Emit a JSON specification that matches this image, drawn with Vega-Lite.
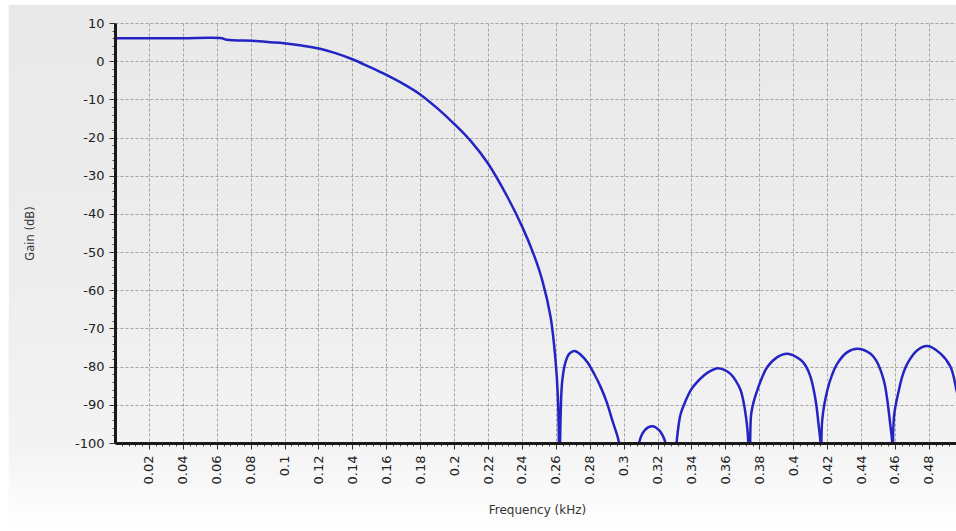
{
  "$schema": "https://vega.github.io/schema/vega-lite/v6.json",
  "width": 841,
  "height": 420,
  "autosize": {"type": "none"},
  "padding": {"left": 115, "top": 23, "right": 0, "bottom": 88},
  "background": "#ffffff",
  "config": {"view": {"stroke": null}, "font": "DejaVu Sans"},
  "view": {
    "stroke": null,
    "fill": {"gradient": "linear", "x1": 0, "y1": 0, "x2": 0, "y2": 1,
      "stops": [{"offset": 0, "color": "#e9e9e9"}, {"offset": 0.6, "color": "#ededed"}, {"offset": 1, "color": "#f3f3f3"}]}
  },
  "datasets": {
    "resp": [
      {"f": 0, "gain": 6}, {"f": 0.02, "gain": 6}, {"f": 0.04, "gain": 6}, {"f": 0.063, "gain": 6},
      {"f": 0.066, "gain": 5.6}, {"f": 0.083, "gain": 5.3}, {"f": 0.09, "gain": 5.0}, {"f": 0.0996, "gain": 4.7},
      {"f": 0.11, "gain": 4.1}, {"f": 0.1203, "gain": 3.3}, {"f": 0.13, "gain": 2.1}, {"f": 0.14, "gain": 0.5},
      {"f": 0.15, "gain": -1.5}, {"f": 0.16, "gain": -3.6}, {"f": 0.17, "gain": -5.95}, {"f": 0.18, "gain": -8.7},
      {"f": 0.19, "gain": -12.3}, {"f": 0.2, "gain": -16.4}, {"f": 0.21, "gain": -21.0}, {"f": 0.22, "gain": -26.8},
      {"f": 0.2314, "gain": -35.5}, {"f": 0.2402, "gain": -43.4}, {"f": 0.2471, "gain": -50.8},
      {"f": 0.252, "gain": -57.4}, {"f": 0.2569, "gain": -67}, {"f": 0.2598, "gain": -78.3}, {"f": 0.2612, "gain": -87.9},
      {"f": 0.2618, "gain": -100}, {"f": 0.2621, "gain": -115},
      {"f": 0.2625, "gain": -100}, {"f": 0.263, "gain": -90}, {"f": 0.2638, "gain": -83.6}, {"f": 0.2657, "gain": -78.8},
      {"f": 0.268, "gain": -76.6}, {"f": 0.2711, "gain": -75.9}, {"f": 0.2745, "gain": -76.8}, {"f": 0.2785, "gain": -78.8},
      {"f": 0.2825, "gain": -81.8}, {"f": 0.2864, "gain": -85.3}, {"f": 0.29, "gain": -89.3}, {"f": 0.2933, "gain": -94.1},
      {"f": 0.2972, "gain": -99.8}, {"f": 0.3, "gain": -115}, {"f": 0.306, "gain": -115},
      {"f": 0.309, "gain": -100}, {"f": 0.3125, "gain": -96.6}, {"f": 0.3169, "gain": -95.6}, {"f": 0.321, "gain": -96.7},
      {"f": 0.3247, "gain": -100}, {"f": 0.328, "gain": -115},
      {"f": 0.3312, "gain": -100}, {"f": 0.3322, "gain": -96}, {"f": 0.3336, "gain": -92.4}, {"f": 0.3365, "gain": -89},
      {"f": 0.3395, "gain": -86.2}, {"f": 0.343, "gain": -84.2}, {"f": 0.3473, "gain": -82.3}, {"f": 0.351, "gain": -81.2},
      {"f": 0.3552, "gain": -80.4}, {"f": 0.359, "gain": -80.8}, {"f": 0.363, "gain": -81.9}, {"f": 0.366, "gain": -83.6},
      {"f": 0.369, "gain": -86.2}, {"f": 0.3705, "gain": -88.8}, {"f": 0.3719, "gain": -92.4}, {"f": 0.373, "gain": -96.5},
      {"f": 0.3735, "gain": -100}, {"f": 0.3742, "gain": -115},
      {"f": 0.3746, "gain": -100}, {"f": 0.3752, "gain": -92.4}, {"f": 0.3768, "gain": -89}, {"f": 0.3788, "gain": -86.2},
      {"f": 0.3815, "gain": -83}, {"f": 0.3847, "gain": -80.1}, {"f": 0.3906, "gain": -77.5}, {"f": 0.3965, "gain": -76.6},
      {"f": 0.4043, "gain": -78.2}, {"f": 0.4075, "gain": -79.9}, {"f": 0.4102, "gain": -82.7}, {"f": 0.4132, "gain": -88.8},
      {"f": 0.4151, "gain": -95.8}, {"f": 0.4161, "gain": -100}, {"f": 0.4166, "gain": -115},
      {"f": 0.4171, "gain": -94}, {"f": 0.4201, "gain": -86.2}, {"f": 0.4228, "gain": -82.3}, {"f": 0.426, "gain": -79.2},
      {"f": 0.4319, "gain": -76.2}, {"f": 0.4378, "gain": -75.3}, {"f": 0.4456, "gain": -76.6}, {"f": 0.4488, "gain": -78.3},
      {"f": 0.4515, "gain": -80.9},
      {"f": 0.4538, "gain": -84.3}, {"f": 0.4555, "gain": -88.8}, {"f": 0.4574, "gain": -95.8}, {"f": 0.4584, "gain": -100},
      {"f": 0.4589, "gain": -115},
      {"f": 0.4594, "gain": -93.2}, {"f": 0.4623, "gain": -86.2}, {"f": 0.4645, "gain": -82.3}, {"f": 0.4673, "gain": -79.2},
      {"f": 0.4732, "gain": -75.7}, {"f": 0.4791, "gain": -74.6}, {"f": 0.4869, "gain": -76.6}, {"f": 0.4928, "gain": -80.1},
      {"f": 0.4965, "gain": -86.5}, {"f": 0.5, "gain": -93}
    ]
  },
  "resolve": {"axis": {"x": "independent", "y": "independent"}},
  "layer": [
    {
      "data": {"values": [{}]},
      "mark": {"type": "rect", "clip": false,
        "fill": {"gradient": "linear", "x1": 0, "y1": 0, "x2": 0, "y2": 1,
          "stops": [{"offset": 0, "color": "#e9e9e9"}, {"offset": 0.5, "color": "#ededed"}, {"offset": 0.833, "color": "#f3f3f3"}, {"offset": 1, "color": "#ffffff"}]}},
      "encoding": {
        "x": {"datum": -0.0627, "type": "quantitative", "axis": null, "scale": {"domain": [0, 0.496], "nice": false, "zero": false}},
        "x2": {"datum": 0},
        "y": {"datum": 14.8, "type": "quantitative", "axis": null, "scale": {"domain": [-100, 10], "nice": false, "zero": false}},
        "y2": {"datum": -123.2}
      }
    },
    {
      "data": {"values": [{}]},
      "mark": {"type": "rect", "clip": false, "fill": "#e9e9e9"},
      "encoding": {
        "x": {"datum": 0, "type": "quantitative", "axis": null},
        "x2": {"datum": 0.51},
        "y": {"datum": 14.8, "type": "quantitative", "axis": null},
        "y2": {"datum": 10}
      }
    },
    {
      "data": {"values": [{}]},
      "mark": {"type": "rect", "clip": false,
        "fill": {"gradient": "linear", "x1": 0, "y1": 0, "x2": 0, "y2": 1,
          "stops": [{"offset": 0, "color": "#f3f3f3"}, {"offset": 1, "color": "#ffffff"}]}},
      "encoding": {
        "x": {"datum": 0, "type": "quantitative", "axis": null},
        "x2": {"datum": 0.51},
        "y": {"datum": -100, "type": "quantitative", "axis": null},
        "y2": {"datum": -123.2}
      }
    },
    {
      "data": {"name": "resp"},
      "mark": {"type": "line", "opacity": 0},
      "encoding": {
        "x": {"field": "f", "type": "quantitative",
          "axis": {"orient": "bottom", "zindex": 0, "grid": true, "gridColor": "#a3a3a3", "gridDash": [3, 2], "gridWidth": 1,
            "values": [0.02, 0.04, 0.06, 0.08, 0.1, 0.12, 0.14, 0.16, 0.18, 0.2, 0.22, 0.24, 0.26, 0.28, 0.3, 0.32, 0.34, 0.36, 0.38, 0.4, 0.42, 0.44, 0.46, 0.48],
            "labels": false, "ticks": false, "domain": false, "title": null}},
        "y": {"field": "gain", "type": "quantitative",
          "axis": {"orient": "left", "zindex": 0, "grid": true, "gridColor": "#a3a3a3", "gridDash": [3, 2], "gridWidth": 1,
            "values": [10, 0, -10, -20, -30, -40, -50, -60, -70, -80, -90],
            "labels": false, "ticks": false, "domain": false, "title": null}}
      }
    },
    {
      "data": {"name": "resp"},
      "mark": {"type": "line", "opacity": 0},
      "encoding": {
        "x": {"field": "f", "type": "quantitative",
          "axis": {"orient": "bottom", "zindex": 1, "grid": false, "labels": false, "domain": false, "title": null,
            "tickSize": 3, "tickColor": "#444", "tickWidth": 1,
            "values": [0.004,0.008,0.012,0.016,0.024,0.028,0.032,0.036,0.044,0.048,0.052,0.056,0.064,0.068,0.072,0.076,0.084,0.088,0.092,0.096,0.104,0.108,0.112,0.116,0.124,0.128,0.132,0.136,0.144,0.148,0.152,0.156,0.164,0.168,0.172,0.176,0.184,0.188,0.192,0.196,0.204,0.208,0.212,0.216,0.224,0.228,0.232,0.236,0.244,0.248,0.252,0.256,0.264,0.268,0.272,0.276,0.284,0.288,0.292,0.296,0.304,0.308,0.312,0.316,0.324,0.328,0.332,0.336,0.344,0.348,0.352,0.356,0.364,0.368,0.372,0.376,0.384,0.388,0.392,0.396,0.404,0.408,0.412,0.416,0.424,0.428,0.432,0.436,0.444,0.448,0.452,0.456,0.464,0.468,0.472,0.476,0.484,0.488,0.492]}},
        "y": {"field": "gain", "type": "quantitative",
          "axis": {"orient": "left", "zindex": 1, "grid": false, "labels": false, "domain": false, "title": null,
            "tickSize": 3, "tickColor": "#444", "tickWidth": 1,
            "values": [8,6,4,2,-2,-4,-6,-8,-12,-14,-16,-18,-22,-24,-26,-28,-32,-34,-36,-38,-42,-44,-46,-48,-52,-54,-56,-58,-62,-64,-66,-68,-72,-74,-76,-78,-82,-84,-86,-88,-92,-94,-96,-98]}}
      }
    },
    {
      "data": {"name": "resp"},
      "mark": {"type": "line", "color": "#2424c4", "strokeWidth": 2.5, "clip": true, "interpolate": "catmull-rom"},
      "encoding": {
        "x": {"field": "f", "type": "quantitative",
          "axis": {"orient": "bottom", "zindex": 1, "grid": false,
            "values": [0.02, 0.04, 0.06, 0.08, 0.1, 0.12, 0.14, 0.16, 0.18, 0.2, 0.22, 0.24, 0.26, 0.28, 0.3, 0.32, 0.34, 0.36, 0.38, 0.4, 0.42, 0.44, 0.46, 0.48],
            "format": "~g", "labelAngle": 270, "labelAlign": "right", "labelBaseline": "middle",
            "labelFont": "DejaVu Sans", "labelFontSize": 13, "labelColor": "#222", "labelPadding": 6,
            "labelFlush": false, "labelOverlap": false,
            "tickSize": 6, "tickColor": "#333", "tickWidth": 1,
            "domainColor": "#1a1a1a", "domainWidth": 3,
            "title": "Frequency (kHz)", "titleFont": "DejaVu Sans", "titleFontSize": 12, "titleFontWeight": "normal", "titleColor": "#333",
            "titleX": 422, "titleY": 66, "titleAlign": "center", "titleBaseline": "middle"}},
        "y": {"field": "gain", "type": "quantitative",
          "axis": {"orient": "left", "zindex": 1, "grid": false,
            "values": [10, 0, -10, -20, -30, -40, -50, -60, -70, -80, -90, -100],
            "labelExpr": "'' + datum.value",
            "labelFont": "DejaVu Sans", "labelFontSize": 13, "labelColor": "#222", "labelPadding": 5,
            "labelFlush": false, "labelOverlap": false,
            "tickSize": 6, "tickColor": "#333", "tickWidth": 1,
            "domainColor": "#1a1a1a", "domainWidth": 3,
            "title": "Gain (dB)", "titleFont": "DejaVu Sans", "titleFontSize": 11.5, "titleFontWeight": "normal", "titleColor": "#333",
            "titleX": -85, "titleY": 210, "titleAngle": 270, "titleAlign": "center", "titleBaseline": "middle"}}
      }
    }
  ]
}
